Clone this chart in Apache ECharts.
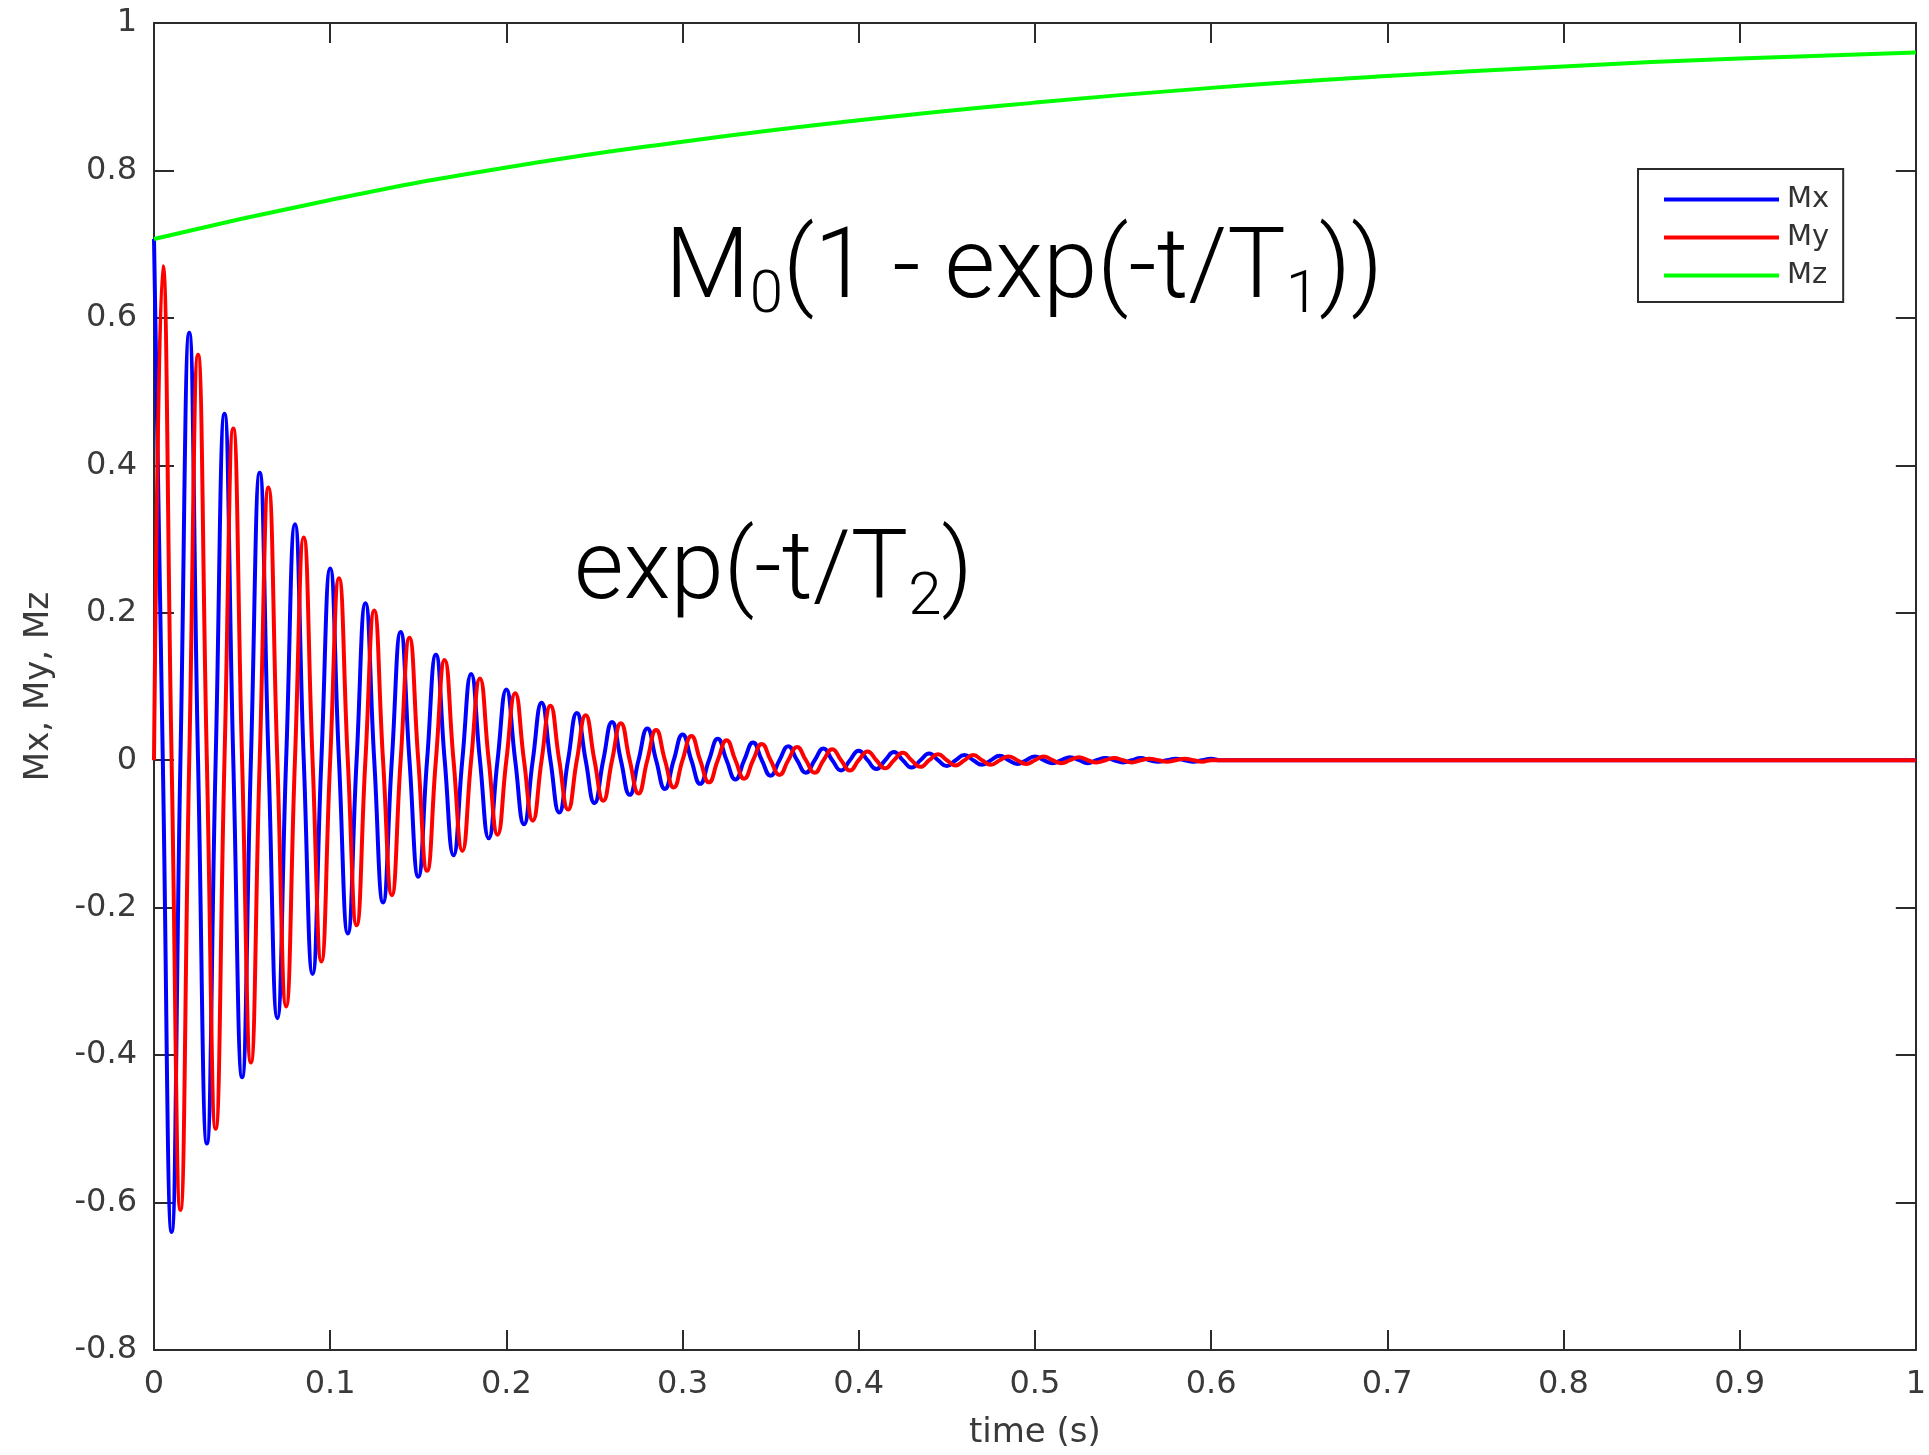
<!DOCTYPE html>
<html>
<head>
<meta charset="utf-8">
<title>Mx My Mz</title>
<script src="https://cdn.jsdelivr.net/npm/echarts@6/dist/echarts.min.js"></script>
<style>
  html, body { margin: 0; padding: 0; background: #fff; }
  #chart { width: 1929px; height: 1455px; }
</style>
</head>
<body>
<div id="chart"></div>
<script>
// Mx extremes, one every half period (t = 0, 0.01, 0.02 ...)
const mxPeaks = [0.707, -0.64, 0.58, -0.52, 0.47, -0.43, 0.39, -0.35, 0.32, -0.29,
  0.26, -0.235, 0.213, -0.193, 0.174, -0.158, 0.143, -0.129, 0.117, -0.106,
  0.096, -0.087, 0.078, -0.071, 0.064, -0.058, 0.052, -0.047, 0.043, -0.039,
  0.035, -0.032, 0.029, -0.026, 0.024, -0.021, 0.019, -0.017, 0.016, -0.014,
  0.013, -0.012, 0.011, -0.010, 0.009, -0.008, 0.007, -0.006, 0.006, -0.005,
  0.005, -0.004, 0.004, -0.004, 0.003, -0.003, 0.003, -0.002, 0.002, -0.002, 0.002]
// My extremes (t = 0.005, 0.015, 0.025 ...)
const myPeaks = [0.67, -0.61, 0.55, -0.50, 0.45, -0.41, 0.37, -0.334, 0.302, -0.273,
  0.247, -0.224, 0.203, -0.183, 0.166, -0.150, 0.136, -0.123, 0.111, -0.101,
  0.091, -0.082, 0.074, -0.067, 0.061, -0.055, 0.050, -0.045, 0.041, -0.037,
  0.033, -0.030, 0.027, -0.025, 0.022, -0.020, 0.018, -0.017, 0.015, -0.014,
  0.012, -0.011, 0.010, -0.009, 0.008, -0.007, 0.007, -0.006, 0.005, -0.005,
  0.005, -0.004, 0.004, -0.003, 0.003, -0.003, 0.002, -0.002, 0.002, -0.002]
const halfPeriod = 0.01

// Mz recovery curve
const mzTimes = [0, 0.1, 0.2, 0.3, 0.4, 0.5, 0.6, 0.7, 0.8, 0.9, 1.0]
const mzValues = [0.707, 0.76, 0.804, 0.839, 0.868, 0.892, 0.912, 0.928, 0.941, 0.952, 0.96]

const seriesNames = ['Mx', 'My', 'Mz']
const seriesColors = ['#0000ff', '#ff0000', '#00ff00']

// extremes with the zero crossings between them
let mxData = []
mxPeaks.forEach((v, k) => {
  mxData.push([k * halfPeriod, v])
  mxData.push([k * halfPeriod + halfPeriod / 2, 0])
})
mxData.push([1, 0])

let myData = [[0, 0]]
myPeaks.forEach((v, k) => {
  myData.push([k * halfPeriod + halfPeriod / 2, v])
  myData.push([(k + 1) * halfPeriod, 0])
})
myData.push([1, 0])

const mzData = mzTimes.map((t, i) => [t, mzValues[i]])

const axisColor = '#2b2b2b'
const labelFont = { fontFamily: 'DejaVu Sans', fontSize: 32, color: '#3a3a3a' }

let boxAxis = {
  type: 'value',
  min: 0,
  max: 1,
  interval: 0.1,
  axisLine: { show: true, onZero: false, lineStyle: { color: axisColor, width: 2 } },
  axisTick: { show: true, inside: true, length: 20, lineStyle: { color: axisColor, width: 2 } },
  splitLine: { show: false },
  axisLabel: { show: false }
}

let chart = echarts.init(document.getElementById('chart'))
chart.setOption({
  animation: false,
  backgroundColor: '#fff',
  grid: { left: 154, top: 23, right: 7, bottom: 103 },
  legend: {
    orient: 'vertical',
    left: 1638,
    top: 169,
    data: seriesNames,
    icon: 'rect',
    itemWidth: 115,
    itemHeight: 4,
    itemGap: 9,
    padding: [16, 14, 12, 26],
    borderColor: axisColor,
    borderWidth: 2,
    backgroundColor: '#fff',
    textStyle: { fontFamily: 'DejaVu Sans', fontSize: 29, color: '#333', padding: [0, 0, 0, 3] }
  },
  xAxis: [
    Object.assign({}, boxAxis, {
      position: 'bottom',
      name: 'time (s)',
      nameLocation: 'middle',
      nameGap: 66,
      nameTextStyle: { fontFamily: 'DejaVu Sans', fontSize: 34, color: '#3a3a3a' },
      axisLabel: Object.assign({ show: true, margin: 19 }, labelFont)
    }),
    Object.assign({}, boxAxis, { position: 'top' })
  ],
  yAxis: [
    Object.assign({}, boxAxis, {
      min: -0.8, max: 1, interval: 0.2,
      position: 'left',
      name: 'Mx, My, Mz',
      nameLocation: 'middle',
      nameGap: 98,
      nameTextStyle: { fontFamily: 'DejaVu Sans', fontSize: 34, color: '#3a3a3a' },
      axisLabel: Object.assign({ show: true, margin: 17 }, labelFont)
    }),
    Object.assign({}, boxAxis, { min: -0.8, max: 1, interval: 0.2, position: 'right' })
  ],
  series: [
    { name: 'Mx', type: 'line', data: mxData, smooth: 0.5, symbol: 'none',
      lineStyle: { color: seriesColors[0], width: 4 }, itemStyle: { color: seriesColors[0] } },
    { name: 'My', type: 'line', data: myData, smooth: 0.5, symbol: 'none',
      lineStyle: { color: seriesColors[1], width: 4 }, itemStyle: { color: seriesColors[1] } },
    { name: 'Mz', type: 'line', data: mzData, smooth: true, symbol: 'none',
      lineStyle: { color: seriesColors[2], width: 4 }, itemStyle: { color: seriesColors[2] } }
  ],
  graphic: [
    {
      type: 'text', x: 665, y: 217, z: 100,
      style: {
        text: '{a|M}{s|0}{a|(1 - exp(-t/T}{s|1}{a|))}',
        rich: {
          a: { fontFamily: 'Roboto', fontWeight: 300, fontSize: 98, lineHeight: 110, verticalAlign: 'middle', fill: '#000' },
          s: { fontFamily: 'Roboto', fontWeight: 300, fontSize: 60, lineHeight: 72, verticalAlign: 'bottom', fill: '#000' }
        }
      }
    },
    {
      type: 'text', x: 574, y: 519, z: 100,
      style: {
        text: '{a|exp(-t/T}{s|2}{a|)}',
        rich: {
          a: { fontFamily: 'Roboto', fontWeight: 300, fontSize: 96, lineHeight: 110, verticalAlign: 'middle', fill: '#000' },
          s: { fontFamily: 'Roboto', fontWeight: 300, fontSize: 60, lineHeight: 72, verticalAlign: 'bottom', fill: '#000' }
        }
      }
    }
  ]
})
</script>
</body>
</html>
